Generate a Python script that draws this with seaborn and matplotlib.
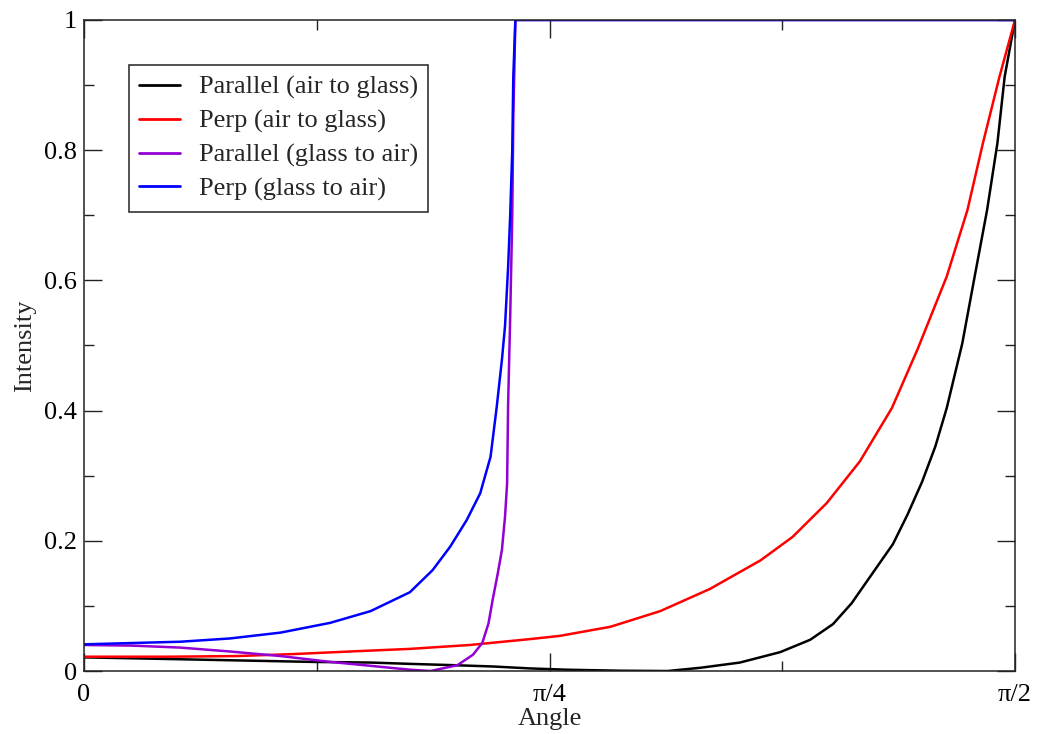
import numpy as np
import pandas as pd
import matplotlib
matplotlib.use("Agg")
import matplotlib.pyplot as plt
import seaborn as sns

# angles in degrees, intensities
par_ag_deg = [0, 6.4, 15.8, 22.1, 27.7, 31.5, 35.7, 39.5, 43.1, 46.7, 51.8, 56.4,
              59.6, 63.4, 67.3, 70.2, 72.4, 74.2, 76.0, 78.2, 79.6, 81.0, 82.3,
              83.4, 84.9, 86.1, 87.3, 88.3, 89.0, 90]
par_ag_val = [0.021, 0.019, 0.016, 0.014, 0.013, 0.011, 0.009, 0.007, 0.004, 0.002,
              0.0005, 0.0, 0.005, 0.013, 0.029, 0.048, 0.072, 0.104, 0.145, 0.195,
              0.24, 0.29, 0.345, 0.404, 0.503, 0.606, 0.708, 0.811, 0.913, 1.0]

perp_ag_deg = [0, 8.3, 14.8, 20.2, 25.7, 31.5, 37.3, 43.1, 46.0, 50.9, 55.7, 60.5,
               65.4, 68.5, 71.8, 75.0, 78.1, 80.6, 83.4, 85.4, 86.9, 88.5, 90]
perp_ag_val = [0.022, 0.022, 0.023, 0.026, 0.030, 0.034, 0.040, 0.049, 0.054, 0.068,
               0.092, 0.126, 0.170, 0.206, 0.258, 0.322, 0.404, 0.495, 0.606, 0.708,
               0.811, 0.913, 1.0]

par_ga_deg = [0, 4.7, 9.3, 14.1, 19.0, 23.8, 27.7, 31.5, 33.5, 36.1, 37.6, 38.5,
              39.1, 39.5, 40.0, 40.4, 40.7, 40.9, 41.0, 41.2, 41.4, 41.5, 41.7, 90]
par_ga_val = [0.040, 0.039, 0.036, 0.030, 0.023, 0.014, 0.008, 0.002, 0.0, 0.009,
              0.025, 0.043, 0.073, 0.109, 0.150, 0.186, 0.237, 0.288, 0.411, 0.544,
              0.70, 0.85, 1.0, 1.0]

perp_ga_deg = [0, 9.3, 14.1, 19.0, 23.8, 27.7, 31.5, 33.7, 35.4, 37.0, 38.3, 39.3,
               39.9, 40.4, 40.7, 41.0, 41.2, 41.4, 41.5, 41.7, 90]
perp_ga_val = [0.041, 0.045, 0.050, 0.059, 0.074, 0.092, 0.121, 0.155, 0.191, 0.232,
               0.273, 0.329, 0.406, 0.478, 0.530, 0.621, 0.70, 0.80, 0.913, 1.0, 1.0]

labels = ["Parallel (air to glass)", "Perp (air to glass)",
          "Parallel (glass to air)", "Perp (glass to air)"]
colors = ["#000000", "#ff0000", "#9400d3", "#0000ff"]

frames = []
for lab, d, v in zip(labels,
                     [par_ag_deg, perp_ag_deg, par_ga_deg, perp_ga_deg],
                     [par_ag_val, perp_ag_val, par_ga_val, perp_ga_val]):
    frames.append(pd.DataFrame({"angle": np.deg2rad(d), "intensity": v, "set": lab}))
df = pd.concat(frames, ignore_index=True)

sns.set_style("ticks")
plt.rcParams["font.family"] = ["Liberation Serif", "DejaVu Serif"]

fig = plt.figure(figsize=(10.37, 7.34), dpi=100)
ax = fig.add_axes([0.081, 0.0858, 0.8978, 0.887])

sns.lineplot(data=df, x="angle", y="intensity", hue="set", hue_order=labels,
             palette=dict(zip(labels, colors)), estimator=None, sort=False,
             linewidth=1.8, ax=ax)

ax.set_xlim(0, np.pi / 2)
ax.set_ylim(0, 1)
ax.set_xticks([0, np.pi / 4, np.pi / 2], ["0", "π/4", "π/2"])
ax.set_xticks([np.pi / 8, 3 * np.pi / 8], minor=True)
ax.set_yticks([0, 0.2, 0.4, 0.6, 0.8, 1.0], ["0", "0.2", "0.4", "0.6", "0.8", "1"])
ax.set_yticks([0.1, 0.3, 0.5, 0.7, 0.9], minor=True)
ax.tick_params(which="both", direction="in", top=True, right=True,
               colors="#222222", labelcolor="black", labelsize=19, width=1)
ax.tick_params(which="major", length=13)
ax.tick_params(which="minor", length=7)
ax.tick_params(axis="y", pad=5)
ax.tick_params(axis="x", pad=9)
for sp in ax.spines.values():
    sp.set_visible(True)
    sp.set_linewidth(1.1)
    sp.set_color("#222222")

ax.set_xlabel("Angle", fontsize=19, labelpad=2)
ax.set_ylabel("Intensity", fontsize=19, labelpad=6)

leg = ax.legend(loc="upper left", bbox_to_anchor=(0.048, 0.931), borderaxespad=0,
                fontsize=19, frameon=True, fancybox=False, handlelength=1.55,
                handletextpad=0.7, borderpad=0.4, labelspacing=0.38)
leg.get_frame().set_edgecolor("black")
leg.get_frame().set_linewidth(1.2)
for h in leg.get_lines():
    h.set_linewidth(2)

fig.savefig("out.png", dpi=100)
